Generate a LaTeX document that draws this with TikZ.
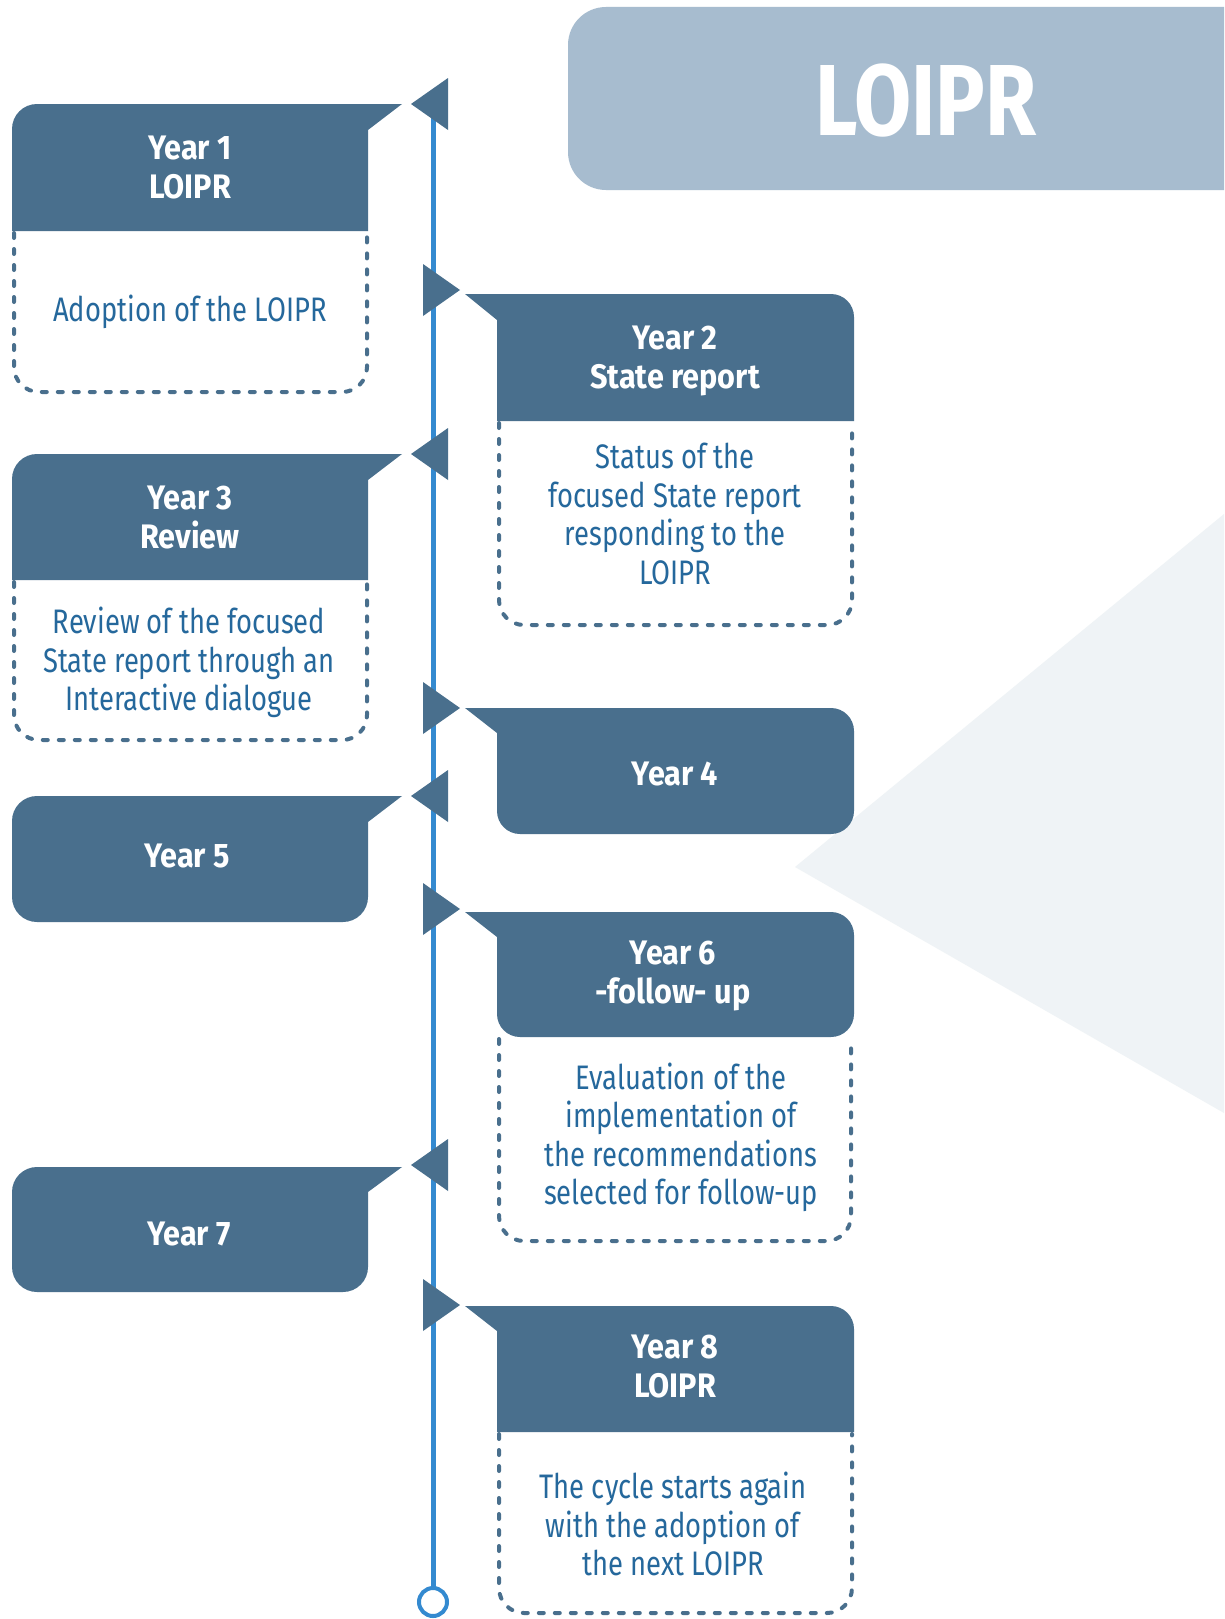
\documentclass[tikz,border=0pt]{standalone}
\usepackage{fontspec}
\setmainfont{Fira Sans}[FakeStretch=0.805]
\newfontfamily\hdfont{Fira Sans}[FakeStretch=0.9]
\newfontfamily\titlefont{Fira Sans}[FakeStretch=0.82]
\definecolor{dark}{RGB}{73,111,141}
\definecolor{bodyblue}{RGB}{37,104,156}
\definecolor{lineblue}{RGB}{52,138,208}
\definecolor{banner}{RGB}{167,188,207}
\definecolor{bgtri}{RGB}{239,243,246}
\tikzset{
  hdr/.style={fill=dark},
  bodydash/.style={draw=dark,line width=4pt,line cap=round,dash pattern=on 5pt off 11pt},
  bodytext/.style={text=bodyblue,align=center,inner sep=0pt,font=\fontsize{34}{38.5}\selectfont},
  hdrtext/.style={text=white,align=center,inner sep=0pt,font=\hdfont\bfseries\fontsize{34}{39}\selectfont},
  marker/.style={fill=dark},
}
\begin{document}
\begin{tikzpicture}[x=1pt,y=-1pt]
\useasboundingbox (0,0) rectangle (1224,1619);
\fill[white] (0,0) rectangle (1224,1619);
% background triangle
\fill[bgtri] (795,867) -- (1224,514) -- (1224,1113) -- cycle;
% banner
\fill[banner] (1224,7) -- (800,7) [rounded corners=38] -- (568,7) -- (568,190) -- (800,190) [sharp corners] -- (1224,190) -- cycle;
\node[text=white,inner sep=0pt,font=\titlefont\bfseries\fontsize{101}{110}\selectfont] (title) at (926,101) {LOIPR};
% timeline
\draw[lineblue,line width=5pt] (433,104) -- (433,1587);
\draw[lineblue,line width=4pt,fill=white] (433,1602) circle (14);
% markers left-pointing
\foreach \t in {104,454,796,1165}{
  \fill[marker] (411,\t) -- (448,\t-26) -- (448,\t+26) -- cycle;
}
% markers right-pointing
\foreach \t in {290,708,909,1305}{
  \fill[marker] (460,\t) -- (423,\t-26) -- (423,\t+26) -- cycle;
}
% ---------- Year 1
\fill[hdr] (12,231) -- (12,160) [rounded corners=25] -- (12,104) -- (200,104) [sharp corners] -- (402,104) -- (368,130) -- (368,231) -- cycle;
\draw[bodydash] (14,233) [rounded corners=25] -- (14,392) -- (367,392) -- (367,233);
\node[hdrtext] (h1) at (190,168) {Year 1\\LOIPR};
\node[bodytext] (b1) at (190,311.5) {Adoption of the LOIPR};
% ---------- Year 2
\fill[hdr] (465,294) -- (700,294) [rounded corners=23] -- (854,294) -- (854,360) [sharp corners] -- (854,421) -- (497,421) -- (497,320) -- cycle;
\draw[bodydash] (499,423) [rounded corners=25] -- (499,625) -- (852,625) -- (852,423);
\node[hdrtext] (h2) at (675,360.5) {Year 2\\State report};
\node[bodytext] (b2) at (675,514) {Status of the\\focused State report\\responding to the\\LOIPR};
% ---------- Year 3
\fill[hdr] (12,580) -- (12,510) [rounded corners=25] -- (12,454) -- (200,454) [sharp corners] -- (402,454) -- (368,480) -- (368,580) -- cycle;
\draw[bodydash] (14,582) [rounded corners=25] -- (14,740) -- (367,740) -- (367,582);
\node[hdrtext] (h3) at (190,517.5) {Year 3\\Review};
\node[bodytext] (b3) at (189,662.5) {Review of the focused\\State report through an\\Interactive dialogue};
% ---------- Year 4
\fill[hdr] (465,708) -- (700,708) [rounded corners=23] -- (854,708) -- (854,834) -- (497,834) -- (497,760) [sharp corners] -- (497,733) -- cycle;
\node[hdrtext] (h4) at (675,773.5) {Year 4};
% ---------- Year 5
\fill[hdr] (402,796) -- (368,822) -- (368,850) [rounded corners=25] -- (368,922) -- (12,922) -- (12,796) -- (200,796) [sharp corners] -- cycle;
\node[hdrtext] (h5) at (187,855.5) {Year 5};
% ---------- Year 6
\draw[bodydash] (499,1039) [rounded corners=25] -- (499,1241) -- (851,1241) -- (851,1039);
\fill[hdr] (465,912) -- (700,912) [rounded corners=23] -- (854,912) -- (854,1037) -- (497,1037) -- (497,980) [sharp corners] -- (497,937) -- cycle;
\node[hdrtext] (h6) at (673,976) {Year 6\\-follow- up};
\node[bodytext] (b6) at (681,1137.5) {Evaluation of the\\implementation of\\the recommendations\\selected for follow-up};
% ---------- Year 7
\fill[hdr] (402,1167) -- (368,1192) -- (368,1220) [rounded corners=25] -- (368,1292) -- (12,1292) -- (12,1167) -- (200,1167) [sharp corners] -- cycle;
\node[hdrtext] (h7) at (189,1233.5) {Year 7};
% ---------- Year 8
\fill[hdr] (465,1306) -- (700,1306) [rounded corners=23] -- (854,1306) -- (854,1380) [sharp corners] -- (854,1432) -- (497,1432) -- (497,1331) -- cycle;
\draw[bodydash] (499,1434) [rounded corners=25] -- (499,1613) -- (852,1613) -- (852,1434);
\node[hdrtext] (h8) at (675,1366.5) {Year 8\\LOIPR};
\node[bodytext] (b8) at (673,1524) {The cycle starts again\\with the adoption of\\the next LOIPR};
\end{tikzpicture}
\end{document}
